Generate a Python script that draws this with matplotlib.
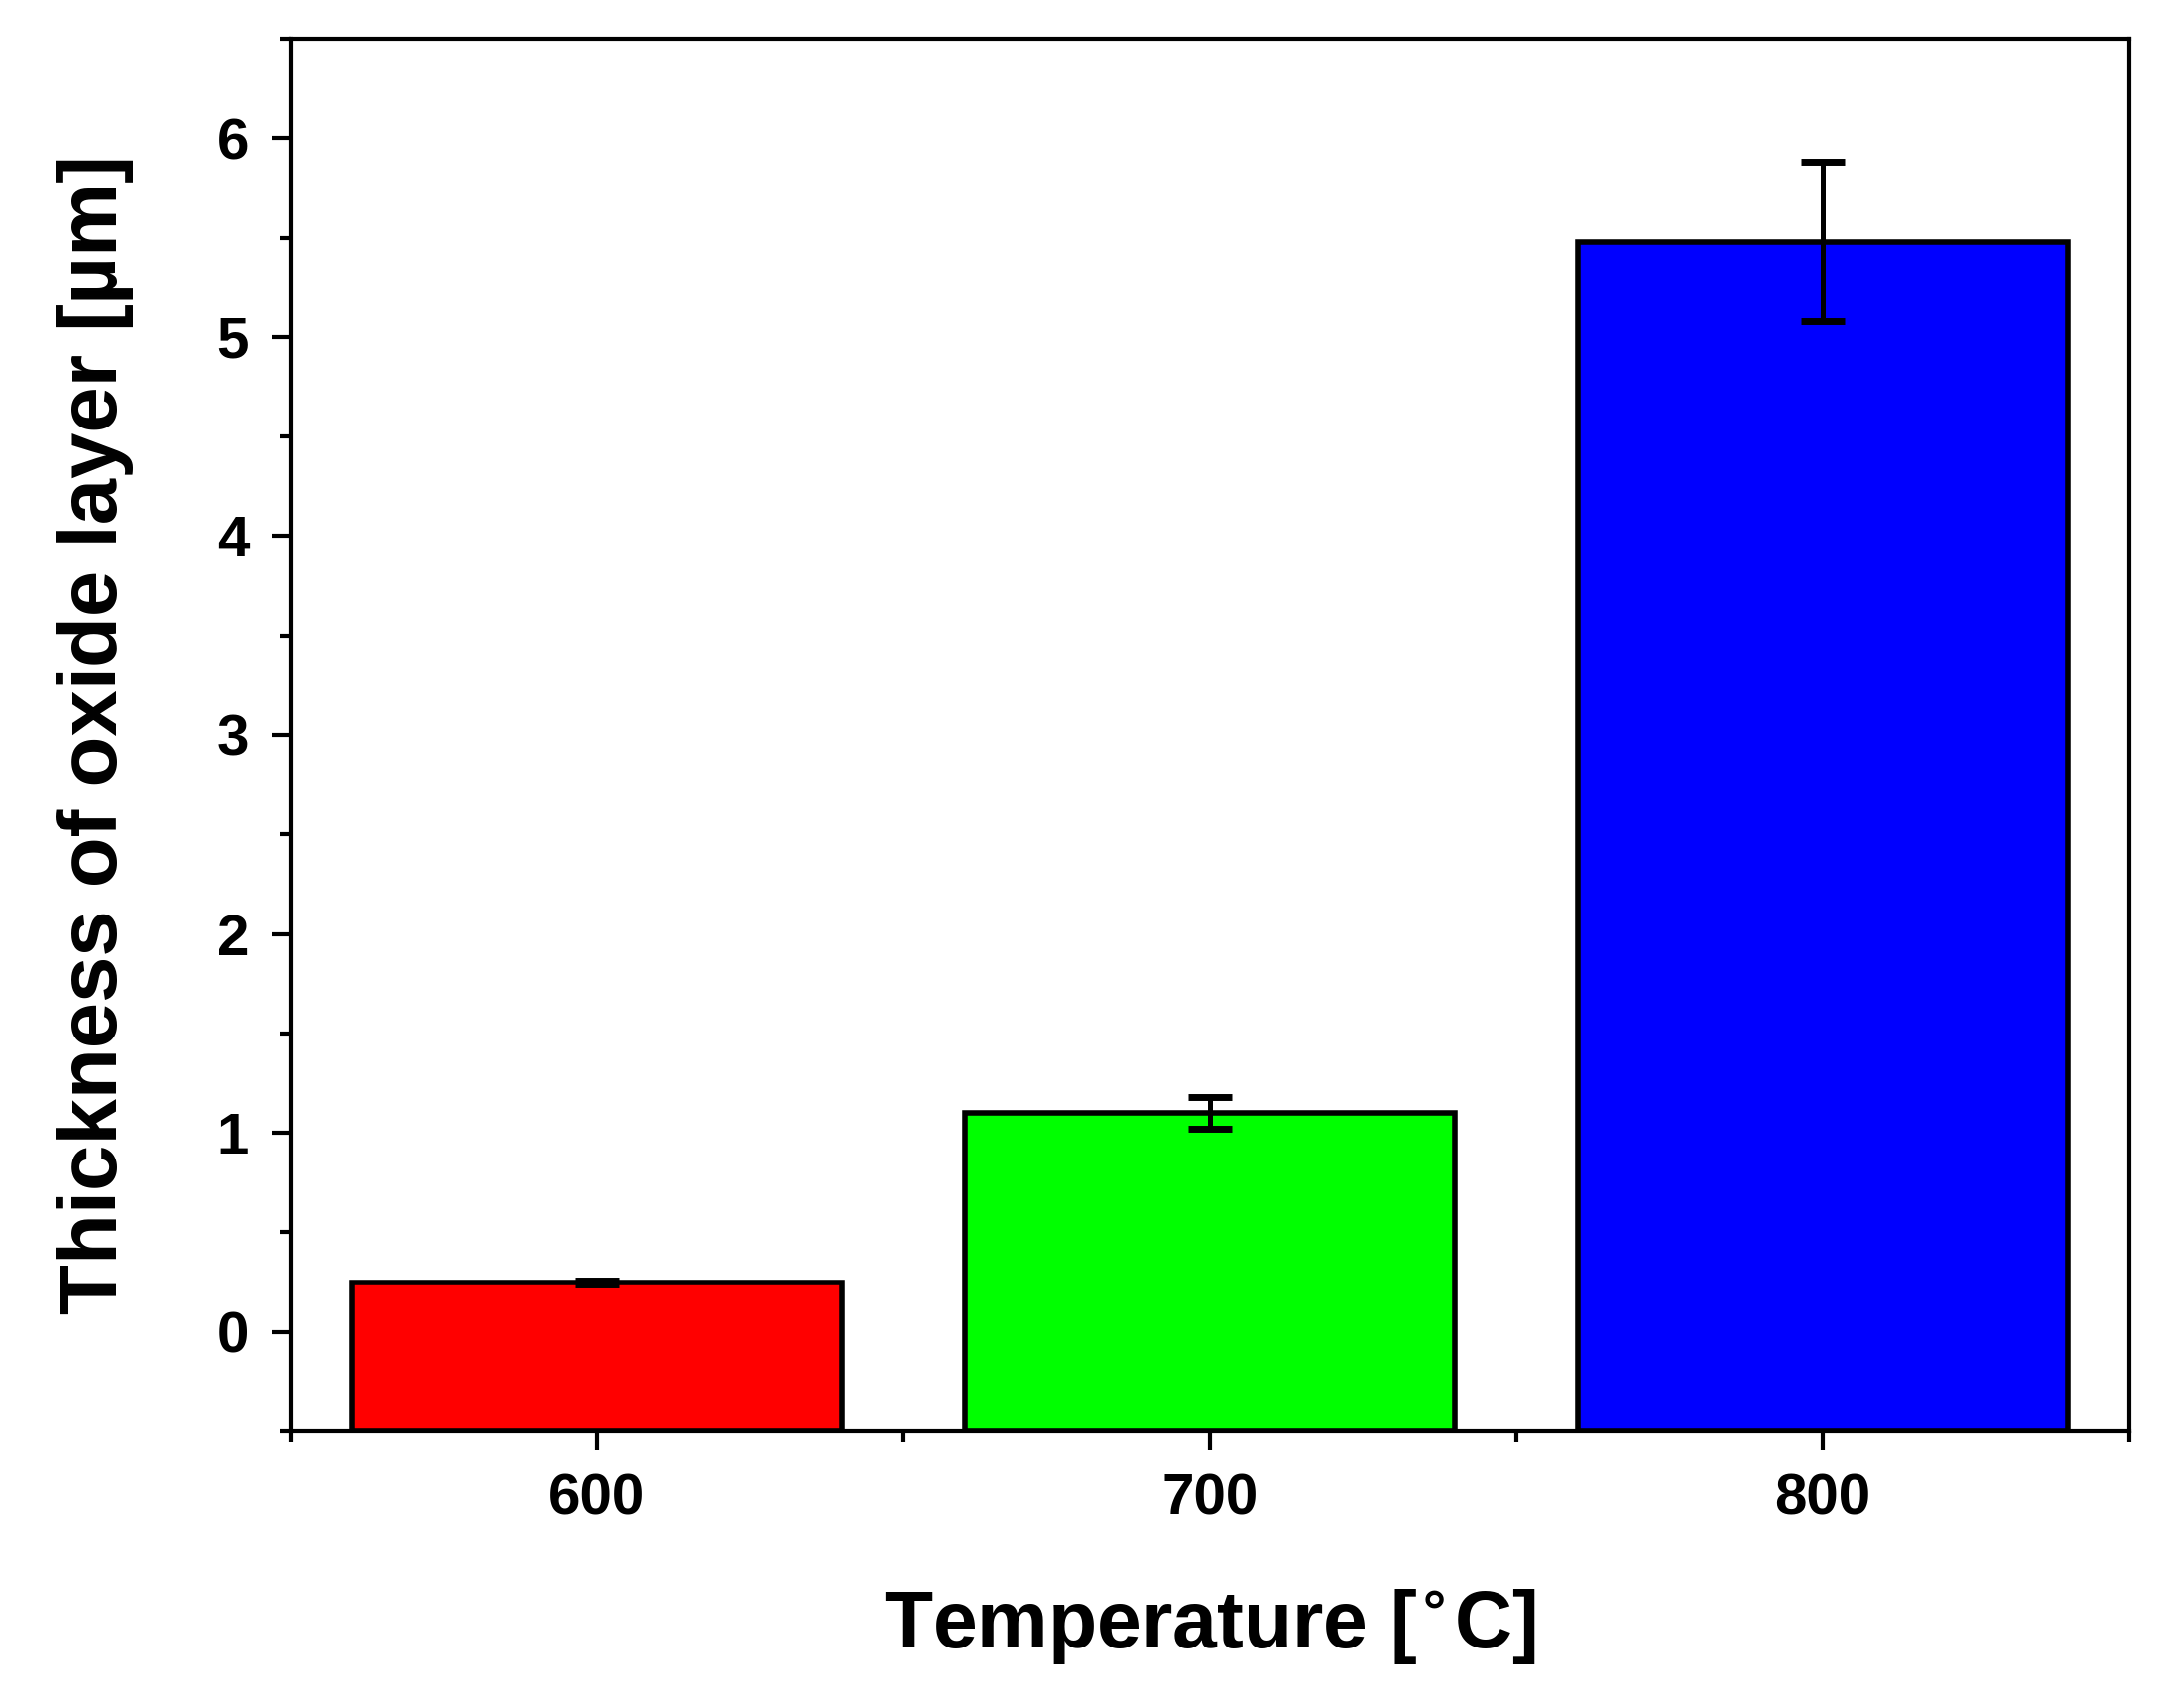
import matplotlib
matplotlib.use("Agg")
import matplotlib.pyplot as plt
from matplotlib.ticker import MultipleLocator

temps = [600, 700, 800]
thickness = [0.25, 1.10, 5.48]
errors = [0.01, 0.08, 0.40]
colors = ["#ff0000", "#00ff00", "#0000ff"]
base = -0.5

plt.rcParams['font.family'] = ['Liberation Sans', 'DejaVu Sans']
plt.rcParams['font.weight'] = 'bold'

fig = plt.figure(figsize=(10.88, 8.61), dpi=200)
ax = fig.add_axes([0.1346, 0.162, 0.852, 0.8154])
ax.bar(temps, [t - base for t in thickness], bottom=base, width=80, color=colors,
       edgecolor="black", linewidth=2)
ax.errorbar(temps, thickness, yerr=errors, fmt='none', ecolor='black',
            elinewidth=1.8, capthick=2.5, capsize=8)
ax.set_xlim(550, 850)
ax.set_ylim(-0.5, 6.5)
ax.set_xticks(temps)
ax.xaxis.set_minor_locator(MultipleLocator(50))
ax.yaxis.set_major_locator(MultipleLocator(1))
ax.yaxis.set_minor_locator(MultipleLocator(0.5))
ax.tick_params(which='major', direction='out', length=7, width=1.5, labelsize=21, pad=8)
ax.tick_params(which='minor', direction='out', length=4, width=1.5)
for s in ax.spines.values():
    s.set_linewidth(1.5)
ax.set_xlabel("Temperature [$^{\\circ}$C]", fontsize=29, fontweight='bold', labelpad=22)
ax.set_ylabel("Thickness of oxide layer [µm]", fontsize=30, fontweight='bold', labelpad=30)
fig.savefig("out.png", dpi=200)
